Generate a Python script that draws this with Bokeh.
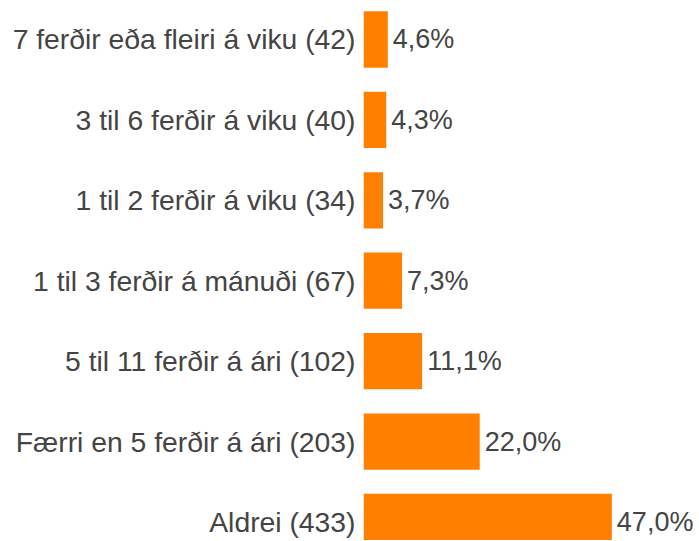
from bokeh.plotting import figure
from bokeh.models import Range1d, FixedTicker, ColumnDataSource
from bokeh.core.properties import value
from bokeh.embed import file_html
from bokeh.resources import INLINE

categories = [
    "7 ferðir eða fleiri á viku (42)",
    "3 til 6 ferðir á viku (40)",
    "1 til 2 ferðir á viku (34)",
    "1 til 3 ferðir á mánuði (67)",
    "5 til 11 ferðir á ári (102)",
    "Færri en 5 ferðir á ári (203)",
    "Aldrei (433)",
]
percent = [4.6, 4.3, 3.7, 7.3, 11.1, 22.0, 47.0]
value_labels = ["4,6%", "4,3%", "3,7%", "7,3%", "11,1%", "22,0%", "47,0%"]

n = len(categories)
ypos = [n - 1 - i for i in range(n)]

src = ColumnDataSource(dict(y=ypos, x=percent, lab=value_labels))

p = figure(width=698, height=540, output_backend="svg", toolbar_location=None,
           x_range=Range1d(0, 63.4), y_range=Range1d(-0.231, 6.485),
           min_border_left=363, min_border_right=0, min_border_top=0, min_border_bottom=0,
           x_axis_location=None)
p.outline_line_color = None
p.xgrid.visible = False
p.ygrid.visible = False
p.background_fill_color = "white"
p.border_fill_color = "white"

p.hbar(y="y", right="x", left=0, height=0.70, source=src, color="#FF8000", line_color=None)
p.text(x="x", y="y", text="lab", source=src, x_offset=5, text_baseline="middle",
       text_align="left", text_font=value("Liberation Sans"), text_font_size="27px",
       text_color="#444444")

ax = p.yaxis[0]
ax.ticker = FixedTicker(ticks=ypos)
ax.major_label_overrides = {y: c for y, c in zip(ypos, categories)}
ax.axis_line_color = None
ax.major_tick_line_color = None
ax.minor_tick_line_color = None
ax.major_tick_out = 0
ax.major_tick_in = 0
ax.major_label_standoff = 8
ax.major_label_text_font = "Liberation Sans"
ax.major_label_text_font_size = "28.3px"
ax.major_label_text_color = "#444444"

open("out.html", "w").write(file_html(p, INLINE))
